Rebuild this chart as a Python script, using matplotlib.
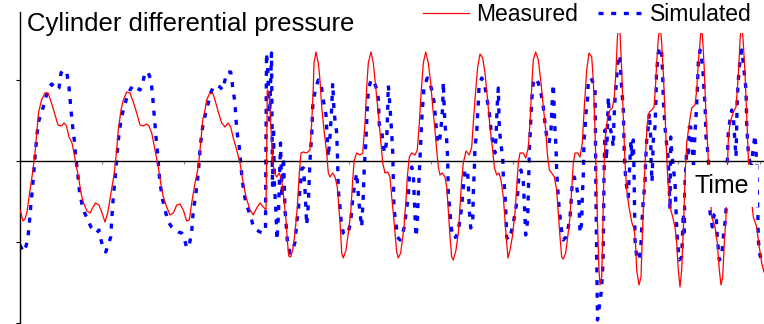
import numpy as np
import matplotlib
matplotlib.use("Agg")
from matplotlib import pyplot as plt
from matplotlib.lines import Line2D
from matplotlib.patches import Rectangle

plt.rcParams['font.family'] = ['Liberation Sans', 'DejaVu Sans']

# measured cylinder differential pressure (time, pressure), arbitrary units
t_meas = [
    0, 1, 3, 5, 7, 10, 13, 15, 17, 18.5, 21.5, 25, 28, 31.5, 35, 38, 41.5,
    44, 46.5, 49, 52, 54, 56.5, 58.5, 61, 63.5, 67, 70, 72.5, 75.5, 79, 82, 85,
    87.7, 91, 94.3, 96.7, 98.3, 101, 103.3, 106.7, 110, 113.3, 116.7, 120,
    123.3, 126.7, 129, 131.7, 135, 138.3, 140.7, 143.3, 146.7, 150, 153.3,
    156.7, 160, 163.3, 166.7, 169.3,
    171.7, 175, 178.3, 180.7, 182.7, 185, 186.7, 189.3, 192.7, 195, 198.3,
    201.7, 205, 208.3, 210.7, 213.3, 216.7, 220, 222.7, 226, 230, 233.3, 236.7,
    240, 243.3, 246,
    246.7, 247.3, 249, 250.7, 252.7, 254.3, 256.7, 259.3, 261.7, 264, 266,
    267.3, 268.7, 270.7, 272.7, 275, 277.3, 279.3, 281, 283.3, 286.7, 290,
    291.7, 293.3, 294, 296, 298.3, 300, 301.7, 304, 306.7, 308.3, 310, 312.7,
    315, 317.3, 319.3, 320.7, 321.7, 323.3, 326, 328.3, 330.7, 332.7, 334.3,
    336.7, 340, 342.7,
    345, 346.7, 348.3, 351, 353.3, 356, 358.3, 360.7, 362.7, 365, 367.7, 370,
    371.7, 373.3, 375, 376.7, 378.3, 380.7, 382.3, 384, 386, 387.3, 389.3,
    391.7, 395, 397.3,
    399.3, 401.3, 403.3, 405.7, 408.3, 410.7, 412.7, 415, 416.7, 418.3, 420,
    422.3, 425, 426.7, 428.3, 430, 431.7, 433.3, 436, 438.3, 440, 441.7, 443.3,
    446, 449.3, 451.7,
    453.3, 455.7, 457.7, 460, 462.7, 465, 467.3, 470, 472.3, 474.3, 476.7, 479,
    481, 483.3, 485, 486.7, 488, 490, 492.3, 495, 496.7, 498.3, 500, 503.3,
    505.7, 508.3,
    510, 511.7, 513.3, 515.7, 518.3, 521, 523.3, 525.7, 527.3, 529.3, 531.7,
    534.3, 536.7, 538.3, 540, 541.7, 543.3, 545.7, 547.7, 550, 551.7, 553.3,
    555, 557.7, 560, 562.3,
    564.3, 566.7, 569, 571.7, 573.3, 575, 576.3, 577.7, 579, 580, 581.7, 582.7,
    583.7, 585, 587.7, 590, 592.3, 594.3, 596, 597.3, 598.5, 600, 601.7, 603.3,
    605, 606.7, 609, 611.7, 614.3,
    615.5, 616.7, 619, 621, 622.3, 624, 625.7, 627.3, 629.3, 631.7, 634, 635.3,
    636.7, 638, 640, 641.7, 643.3, 645, 646.7, 648.3, 650, 652.7, 655, 656.7,
    658.3, 660, 661.7, 663.3, 665,
    666.7, 669.3, 671.7, 675, 676.7, 678.3, 680, 681.5, 682.7, 684.3, 686,
    687.7, 689.5, 691.7, 695, 697.3, 699.3, 701, 702.7, 704.3, 706, 707, 708.3,
    710, 713.3, 716, 717.3, 719, 720, 721.7, 723.3, 725, 726.7, 728.3, 730.5,
    733.3, 736.7, 739.3, 741.7, 744,
]
p_meas = [
    -49, -52, -60, -58, -51, -29, -9, 8, 31, 48, 61, 68, 68, 58, 46, 36, 35,
    38, 35, 24, 18, 8, -6, -16, -32, -42, -50, -52, -47, -42, -44, -52, -61,
    -52, -32, -12, 11, 31, 51, 61, 69, 68, 59, 48, 36, 35, 37, 35, 28, 11, -6,
    -22, -36, -46, -54, -52, -44, -43, -49, -60, -59,
    -42, -22, -6, 18, 41, 51, 61, 67, 68, 61, 49, 38, 34, 38, 34, 23, 11, -2,
    -19, -36, -49, -54, -47, -42, -46, -49,
    21, 71, 68, 38, 1, -12, -16, -12, -19, -39, -59, -79, -95, -96, -89, -72,
    -46, -12, 8, 9, 8, 11,
    38, 74, 98, 109, 98, 81, 54, 31, 8, -12, -16, -12, -16, -26, -52, -72,
    -92, -97, -89, -72, -52, -19, 1, 8, 6, 8,
    38, 74, 98, 109, 98, 71, 48, 21, -2, -12, -11, -16, -36, -52, -72, -91,
    -97, -92, -79, -66, -39, -16, 4, 8, 6, 11,
    38, 71, 98, 109, 98, 78, 54, 31, 11, -6, -14, -12, -16, -26, -49, -76,
    -96, -99, -89, -72, -46, -19, -2, 10, 6, 14,
    38, 71, 94, 107, 103, 88, 64, 34, 14, -6, -14, -12, -19, -36, -59, -82,
    -97, -89, -76, -52, -26, -2, 8, 8, 3, 13,
    38, 74, 101, 109, 101, 78, 54, 31, 8, -9, -12, -16, -29, -52, -76, -96,
    -98, -92, -76, -56, -29, -2, 8, 8, 4, 18,
    54, 91, 108, 104, 81, 31, -19, -69, -109, -124, -116, -76, -19, 21, 44, 51,
    53, 64, 91, 121, 141, 128, 91, 44, -2, -29, -46, -61, -69,
    -82, -109, -124, -116, -76, -29, 11, 38, 49, 51, 54, 71, 98, 118, 139, 118,
    88, 48, 4, -26, -46, -56, -66, -82, -109, -126, -109, -69, -19,
    18, 38, 53, 56, 71, 98, 118, 139, 121, 91, 44, 14, -24, -56, -66, -82,
    -109, -124, -116, -82, -56, -19, 21, 38, 49, 54, 71, 98, 121, 139, 118, 88,
    44, 4, -29, -56, -66, -86, -102, -111,
]

# simulated cylinder differential pressure
t_sim = [
    0, 1, 3.3, 5.7, 7.7, 9, 10.7, 12.3, 13.7, 15, 16.7, 18.3, 21, 23.3, 26,
    28.3, 31.7, 34.3, 36.7, 39, 41, 43.3, 46.7, 49, 51, 52.7, 54.3, 55.7, 57.7,
    59.3, 61.7, 64.3, 67.7, 71, 74.3, 76.7, 79, 81, 83.3, 85.7,
    88.3, 90.7, 91.7, 93.3, 95, 96.7, 98.3, 101, 103.3, 106.7, 110, 113.3,
    116.7, 120, 122.7, 125, 128.3, 131, 132.7, 134.3, 136, 137.3, 138.3, 140,
    142.7, 145, 148.3, 151.7, 155, 158.3, 161.7, 164, 166.7, 169.3,
    171.7, 173.3, 175, 176.7, 178.3, 180, 181.7, 183.3, 185.7, 188.3, 190.7,
    193.3, 196.7, 200, 202.7, 205, 207.3, 210.7, 212.7, 215, 216, 217.7, 219.3,
    221, 222.3, 224, 226, 228.3, 231, 233.3, 236.7, 240, 243.3, 245.5,
    246.5, 248, 249.5, 251.5, 252.5, 253.5, 254.5, 256, 257, 258.5, 260.5, 262,
    263.5, 265, 267.3, 270, 272.3, 275, 276.7, 278.3, 280, 282, 283.5, 285,
    286.7, 288.3, 290,
    291.7, 292.7, 294, 296, 298.3, 300.7, 303.3, 306, 308.3, 310, 311.7, 312.7,
    314, 315, 316.7, 317.5, 318.3, 320, 321, 323.3, 326, 328.3, 330.7, 332.3,
    334.3, 336.7, 338.3, 340, 341.7, 343.3, 344.3,
    346, 347.3, 348.3, 351, 353.3, 356, 358.3, 359.3, 361.7, 363.3, 365, 366.7,
    367.7, 368.3, 369.5, 371.7, 372.7, 373.3, 374, 376, 377.3, 380, 382.7,
    384.3, 386, 388.3, 389.3, 391.7, 393.3, 394.3, 396, 397.3, 398.3, 399.3,
    400, 400.7, 402, 404, 407.3, 410, 411.7, 414, 415.7, 417.3, 419.3, 420,
    421.7, 422.7, 423.3, 424.3, 425, 426.7, 427.7, 428.3, 430, 430.7, 432.7,
    436, 438.3, 440, 441.7, 443.3, 445, 447.3, 448.3, 449.3, 450.7, 452.7,
    453.3, 454.3, 455, 456.7, 457.3, 458.3, 459, 461.7, 464.3, 466.7, 469.3,
    471, 473.3, 475, 476, 476.7, 477.3, 478.3, 479.3, 480.7, 482.7, 483.3, 485,
    486, 486.7, 488.3, 491, 493.3, 495.7, 497.7, 499, 501, 503.3, 504.3, 505.7,
    507.7, 508.3, 509, 509.3, 510, 511, 511.7,
    513.3, 515.7, 518.3, 521, 523.3, 525, 526.7, 529, 531, 531.7, 532.3, 533.3,
    534.3, 535, 536, 536.7, 538.3, 540, 541, 543.3, 546, 548.3, 550, 551,
    552.3, 554.3, 556.7, 559, 560, 561.7, 562.3, 563.3, 564, 565, 566, 567.7,
    568.3, 571, 573.3, 575,
    576, 577.5, 579.5, 581.5, 583, 584, 585, 586.5, 588.3, 590, 591.7, 593.3,
    594, 595, 596.7, 598.3, 600, 601, 603.3, 604.3, 605.7, 608.3, 609.5, 611,
    611.7, 613.3, 614, 614.3, 615, 616.7, 619.3, 621, 622.3, 623.3, 625, 625.5,
    626.7, 628.3, 629.3, 630.7, 631, 632, 633.3, 635, 636, 636.5, 638.3, 640,
    641.7, 642.7, 643.3, 645, 646.7, 648.3, 649.3, 650, 650.7, 651.7, 653.3,
    655, 656.7, 657.7, 659.3, 661.7, 663.3, 664.3, 665, 666.7, 668.3, 669.3,
    670.7, 671.7, 673.5,
    675, 676.7, 677.7, 678.3, 680, 681.7, 682.7, 684, 685, 686, 687.3, 688.3,
    689.5, 690, 692.3, 694, 696, 697.3, 699.3, 701.7, 703.3, 705, 706, 707,
    708.3, 710, 711.7, 713.3, 714, 715, 716, 716.7, 717.3, 718.3, 720, 721.7,
    723.3, 724.3, 726, 726.7, 727.5, 728.3, 731, 733, 735, 736.7, 737.3, 737.8,
    738.3, 740, 742, 744,
]
p_sim = [
    -84, -86, -91, -86, -79, -66, -46, -29, -12, 4, 24, 38, 48, 54, 64, 73, 77,
    74, 71, 73, 88, 91, 89, 74, 51, 34, 21, 4, -12, -29, -42, -51, -59, -66,
    -69, -72, -69, -79, -87, -91,
    -84, -76, -59, -36, -19, 1, 21, 41, 51, 63, 71, 76, 73, 71, 78, 89, 88, 81,
    64, 44, 24, 11, -2, -22, -39, -49, -61, -66, -69, -71, -72, -76, -87, -84,
    -71, -49, -39, -26, -12, 11, 28, 38, 48, 58, 68, 74, 76, 74, 71, 81, 89,
    89, 74, 58, 41, 24, 14, -6, -19, -32, -42, -49, -56, -66, -69, -71, -72,
    -69,
    108, 86, 41, 108, -26, 34, -26, -52, -79, -52, 18, -36, 4, -49, -79, -92,
    -91, -81, -62, -49, -27, -7, -7, -29, -64, -44, 1,
    26, 54, 64, 74, 81, 79, 61, 46, 4, 24, 53, 78, 51, 41, 28, 4, -29, -46,
    -59, -72, -74, -71, -61, -42, -26, -12, -34, -52, -66, -34, -6,
    21, 54, 71, 81, 81, 74, 63, 36, 31, 14, 8, 21, 51, 76, 61, 28, 9, -16, -49,
    -62, -76, -79, -72, -66, -52, -36, -16, -6, -12, -39, -76, -62, -34, -12,
    4, 21, 46, 74, 83, 78, 71, 59, 41, 18, 18, 24, 41, 54, 79, 51, 36, 21, 1,
    -34, -49, -62, -77, -76, -69, -59, -46, -26, -9, -9, -22, -49, -67, -62,
    -32, -9, 14, 28, 41, 58, 74, 83, 78, 64, 48, 31, 14, 8, 24, 41, 57, 73, 34,
    18, 4, -15, -32, -56, -76, -79, -72, -62, -49, -32, -12, -9, -21, -42, -74,
    -59, -32, -6, 11, 24, 45, 61,
    78, 83, 78, 68, 54, 38, 24, 18, 31, 48, 61, 77, 51, 31, 14, -11, -37, -56,
    -66, -79, -76, -66, -57, -42, -22, -16, -26, -42, -72, -62, -36, -14, 21,
    31, 48, 64, 81, 83, 78, 74,
    -39, -159, -144, -129, -102, -16, 31, 1, 64, 34, 26, 14, 43, 61, 84, 104,
    106, 83, 51, 8, -19, -36, -9, 21, 4, 21, -9, -31, -79, -96, -99, -82, -56,
    -39, -22, -2, 21, 34, 48, 24, 4, -21, 21, 34, 63, 88, 108, 114, 108, 86,
    61, 34, 16, 1, -27, -49, 24, 9, -6, -22, -67, -82, -99, -96, -52, -71, -22,
    11, 8, 34, 34, 18, -4,
    28, 56, 84, 98, 111, 101, 94, 71, 58, 24, 14, 4, -24, -51, -66, -54, -52,
    -76, -99, -96, -76, -62, -49, -9, 28, 41, 51, 44, 34, 18, 4, 34, 64, 81,
    101, 111, 98, 88, 71, 38, 21, 9, -9, 11, 26, -2, -32, -49, -79, -94, -101,
    -104,
]

W, H = 764, 324
fig = plt.figure(figsize=(W / 100, H / 100), dpi=100)
ax = fig.add_axes([20 / W, 0, (W - 20) / W, 312 / H])

ax.plot(t_meas, p_meas, color='#ff0000', lw=0.9, zorder=3)
ax.plot(t_sim, p_sim, color='#0000ff', lw=2.4, dashes=(1.5, 2.3),
        dash_capstyle='butt', zorder=2)

ax.set_xlim(0, 744)
ax.set_ylim(-163, 149)

for side in ('top', 'right'):
    ax.spines[side].set_visible(False)
ax.spines['bottom'].set_position(('data', 0))
ax.spines['bottom'].set_linewidth(1.0)
ax.spines['left'].set_linewidth(1.0)

ax.set_xticks(np.arange(82.2, 744, 82.2))
ax.set_yticks([-162, -81, 0, 81])
ax.tick_params(axis='x', direction='out', length=2.5, width=0.8,
               color='#808080', labelbottom=False)
ax.tick_params(axis='y', direction='out', length=3, width=0.8,
               labelleft=False)

# white strip under the legend
ax.add_patch(Rectangle((400 / W, 1 - 33 / H), 1 - 400 / W, 33 / H,
                       transform=fig.transFigure, facecolor='white',
                       edgecolor='none', zorder=4, clip_on=False))

fig.text(27 / W, 1 - 30.5 / H, 'Cylinder differential pressure',
         fontsize=18.5, va='baseline', ha='left')

handles = [
    Line2D([], [], color='#ff0000', lw=0.9),
    Line2D([], [], color='#0000ff', lw=2.4, dashes=(1.5, 2.3),
           dash_capstyle='butt'),
]
leg = fig.legend(handles, ['Measured', 'Simulated'], ncol=2,
                 loc='upper right', bbox_to_anchor=(752 / W, 1 - 3 / H),
                 frameon=False, fontsize=16.5, handlelength=2.0,
                 handletextpad=0.3, columnspacing=0.85, borderpad=0,
                 borderaxespad=0)
leg.set_zorder(5)

ax.text(722 / W, 1 - 186 / H, 'Time', transform=fig.transFigure,
        fontsize=18, ha='center', va='center', zorder=6,
        bbox=dict(boxstyle='square,pad=0.35', facecolor='white',
                  edgecolor='none'))

fig.savefig('out.png', dpi=100)
